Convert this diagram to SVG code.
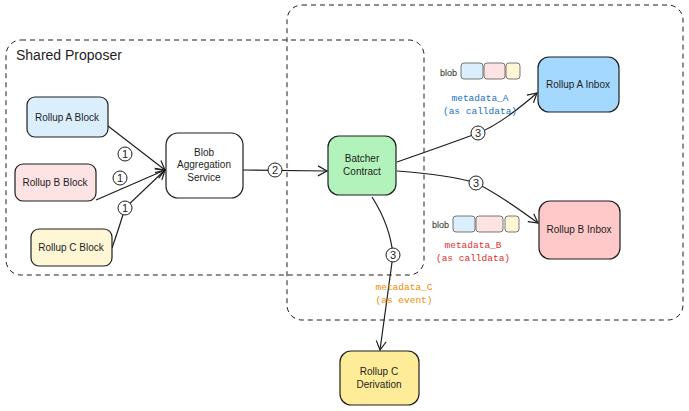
<svg xmlns="http://www.w3.org/2000/svg" width="689" height="411" viewBox="0 0 689 411">
<style>
text{font-family:"Liberation Sans",sans-serif;fill:#1e1e1e}
.n{stroke:#1e1e1e;stroke-width:1.2}
.t{font-size:10px;text-anchor:middle}
.e{fill:none;stroke:#1e1e1e;stroke-width:1.2}
.g{fill:none;stroke:#1e1e1e;stroke-width:1;stroke-dasharray:5 4}
.m{font-family:"Liberation Mono",monospace;font-size:9.5px;text-anchor:middle}
.s{stroke:#555;stroke-width:0.8}
</style>
<defs><marker id="a" markerWidth="12" markerHeight="12" refX="10" refY="6" orient="auto" markerUnits="userSpaceOnUse"><path d="M1,1 L10,6 L1,11" fill="none" stroke="#1e1e1e" stroke-width="1.2"/></marker></defs>
<rect width="689" height="411" fill="#fff"/>
<g id="groups">
<rect class="g" x="6" y="40" width="418" height="235" rx="15"/>
<rect class="g" x="287" y="5" width="396" height="315" rx="15"/>
<text x="16" y="60" font-size="14">Shared Proposer</text>
</g>
<g id="connectors">
<path class="e" d="M108,126 L165,170" marker-end="url(#a)"/>
<path class="e" d="M96,200 L165,170" marker-end="url(#a)"/>
<path class="e" d="M112,248 Q120,225 125,208 L165,170" marker-end="url(#a)"/>
<path class="e" d="M243,170 L327,171" marker-end="url(#a)"/>
<path class="e" d="M397,162 Q460,140 478,133 Q500,125 537,93" marker-end="url(#a)"/>
<path class="e" d="M397,171 Q450,175 476,183 Q500,195 538,223" marker-end="url(#a)"/>
<path class="e" d="M372,197 Q390,225 393,255 L380,350" marker-end="url(#a)"/>
<g fill="#fff" stroke="#1e1e1e" stroke-width="1">
<circle cx="125" cy="154" r="7"/><circle cx="120" cy="178" r="7"/><circle cx="125" cy="208" r="7"/>
<circle cx="275" cy="170" r="7"/><circle cx="478" cy="133" r="7"/><circle cx="476" cy="183" r="7"/><circle cx="393" cy="255" r="7"/>
</g>
<g font-size="11" text-anchor="middle">
<text x="125" y="158">1</text><text x="120" y="182">1</text><text x="125" y="212">1</text>
<text x="275" y="174">2</text><text x="478" y="137">3</text><text x="476" y="187">3</text><text x="393" y="259">3</text>
</g>
</g>
<g id="rollupA"><rect class="n" x="27" y="97" width="81" height="40" rx="8" fill="#dbeefc"/><text class="t" x="67" y="121">Rollup A Block</text></g>
<g id="rollupB"><rect class="n" x="15" y="164" width="81" height="37" rx="8" fill="#fde3e3"/><text class="t" x="55" y="186">Rollup B Block</text></g>
<g id="rollupC"><rect class="n" x="31" y="229" width="81" height="37" rx="8" fill="#fff6d6"/><text class="t" x="71" y="251">Rollup C Block</text></g>
<g id="blobAgg"><rect class="n" x="166" y="133" width="77" height="65" rx="12" fill="#fff"/><text class="t" x="204" y="156">Blob</text><text class="t" x="204" y="168">Aggregation</text><text class="t" x="204" y="181">Service</text></g>
<g id="batcher"><rect class="n" x="328" y="136" width="68" height="59" rx="11" fill="#b2f2bb"/><text class="t" x="362" y="162">Batcher</text><text class="t" x="362" y="175">Contract</text></g>
<g id="inboxA"><rect class="n" x="538" y="57" width="81" height="55" rx="11" fill="#a5d8ff"/><text class="t" x="578" y="88">Rollup A Inbox</text></g>
<g id="inboxB"><rect class="n" x="539" y="201" width="81" height="58" rx="11" fill="#ffc9c9"/><text class="t" x="579" y="233">Rollup B Inbox</text></g>
<g id="derivC"><rect class="n" x="340" y="351" width="79" height="54" rx="11" fill="#ffec99"/><text class="t" x="379" y="375">Rollup C</text><text class="t" x="379" y="388">Derivation</text></g>
<g id="blobA">
<text x="440" y="76" font-size="9">blob</text>
<rect class="s" x="461" y="63" width="22" height="16" rx="3" fill="#dbeefc"/><rect class="s" x="484" y="63" width="21" height="16" rx="3" fill="#fde3e3"/><rect class="s" x="506" y="63" width="14" height="16" rx="3" fill="#fff6d6"/>
<text class="m" x="480" y="101" style="fill:#1971c2">metadata_A</text><text class="m" x="480" y="114" style="fill:#1971c2">(as calldata)</text>
</g>
<g id="blobB">
<text x="432" y="228" font-size="9">blob</text>
<rect class="s" x="453" y="216" width="22" height="16" rx="3" fill="#dbeefc"/><rect class="s" x="476" y="216" width="27" height="16" rx="3" fill="#fde3e3"/><rect class="s" x="505" y="216" width="14" height="16" rx="3" fill="#fff6d6"/>
<text class="m" x="473" y="248" style="fill:#e03131">metadata_B</text><text class="m" x="473" y="261" style="fill:#e03131">(as calldata)</text>
</g>
<g id="metaC"><text class="m" x="404" y="290" style="fill:#f08c00">metadata_C</text><text class="m" x="404" y="303" style="fill:#f08c00">(as event)</text></g>
</svg>
